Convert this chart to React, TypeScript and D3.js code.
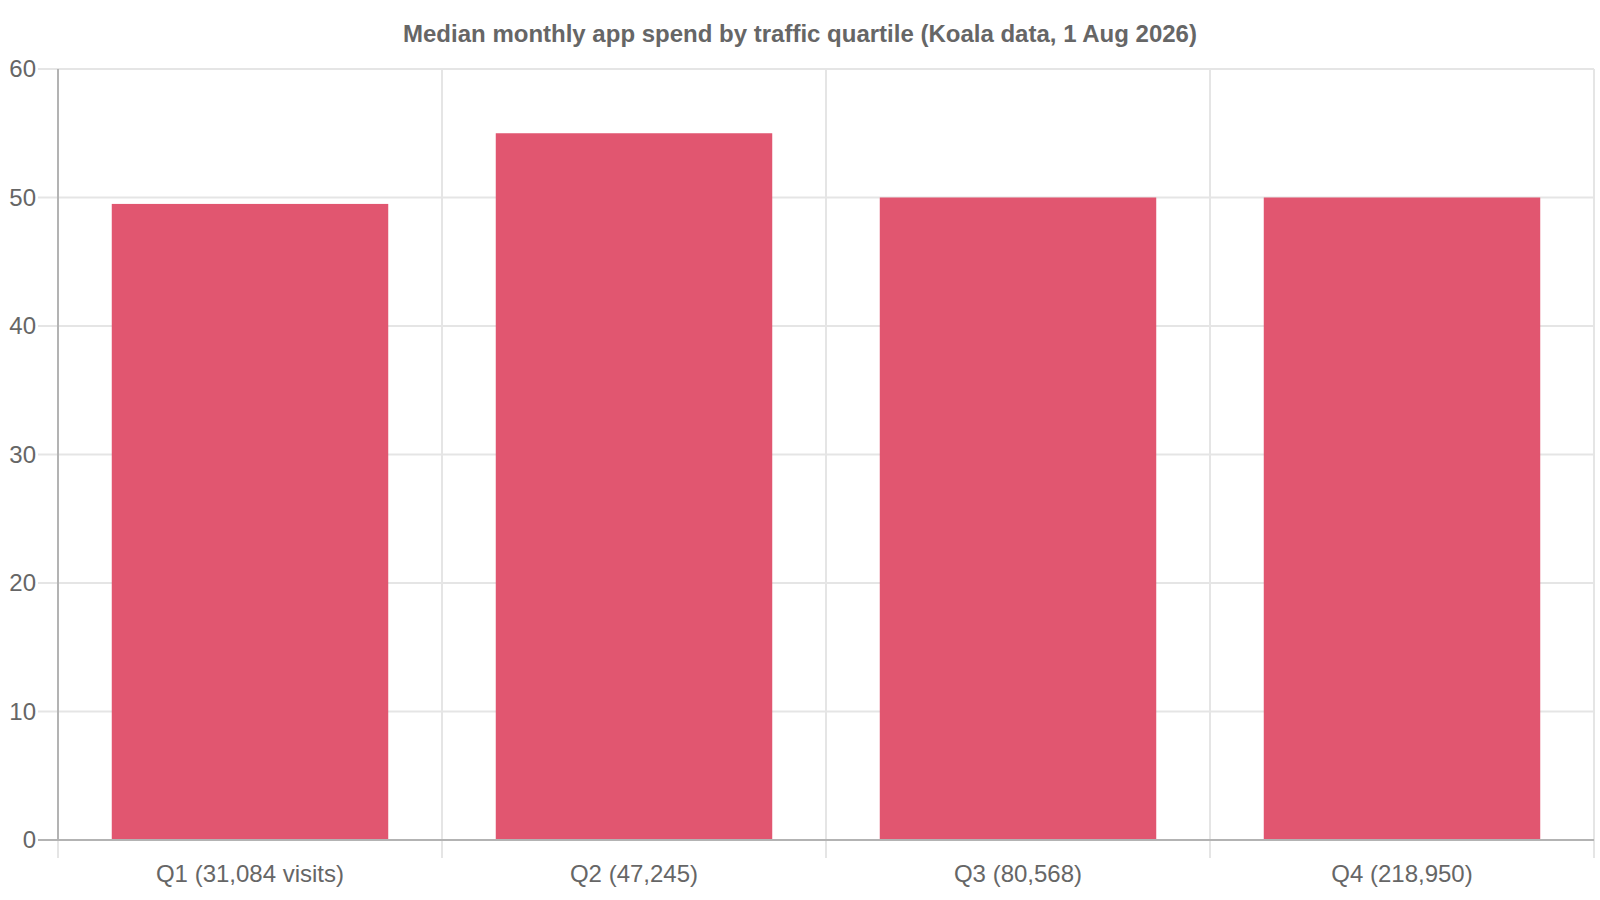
import { useEffect, useRef } from 'react'
import * as d3 from 'd3'

const title = 'Median monthly app spend by traffic quartile (Koala data, 1 Aug 2026)'
const categories = ['Q1 (31,084 visits)', 'Q2 (47,245)', 'Q3 (80,568)', 'Q4 (218,950)']
const medianSpend = [49.5, 55, 50, 50]
const yTicks = [0, 10, 20, 30, 40, 50, 60]

export default function App() {
  const svgRef = useRef<SVGSVGElement>(null)

  useEffect(() => {
    if (!svgRef.current) return
    const svg = d3.select(svgRef.current)
    svg.selectAll('*').remove()

    const width = 1600
    const height = 900
    const left = 58
    const right = 1594
    const top = 69
    const bottom = 840
    const font = 'Liberation Sans, Arial, sans-serif'

    const x = d3.scaleBand<string>()
      .domain(categories)
      .range([left, right])
      .paddingInner(0.28)
      .paddingOuter(0.14)

    const y = d3.scaleLinear().domain([0, 60]).range([bottom, top])
    const step = x.step()

    svg.attr('width', width).attr('height', height)

    // Title
    svg.append('text')
      .attr('x', width / 2)
      .attr('y', 42)
      .attr('text-anchor', 'middle')
      .style('font-family', font)
      .style('font-size', '24px')
      .style('font-weight', 'bold')
      .style('fill', '#666')
      .text(title)

    // Horizontal grid + ticks
    svg.append('g')
      .selectAll('line')
      .data(yTicks.filter(d => d !== 0))
      .enter().append('line')
      .attr('x1', left - 20)
      .attr('x2', right)
      .attr('y1', d => y(d))
      .attr('y2', d => y(d))
      .attr('stroke', '#e5e5e5')
      .attr('stroke-width', 2)

    // Vertical grid lines at category boundaries
    const bounds = d3.range(categories.length + 1).map(i => left + i * step)
    svg.append('g')
      .selectAll('line')
      .data(bounds)
      .enter().append('line')
      .attr('x1', d => d)
      .attr('x2', d => d)
      .attr('y1', top)
      .attr('y2', bottom + 18)
      .attr('stroke', '#e5e5e5')
      .attr('stroke-width', 2)

    // Bars
    svg.append('g')
      .selectAll('rect')
      .data(categories)
      .enter().append('rect')
      .attr('x', d => x(d)!)
      .attr('width', x.bandwidth())
      .attr('y', (d, i) => y(medianSpend[i]))
      .attr('height', (d, i) => bottom - y(medianSpend[i]))
      .attr('fill', '#e15670')

    // Axis lines
    svg.append('line')
      .attr('x1', left).attr('x2', left)
      .attr('y1', top).attr('y2', bottom)
      .attr('stroke', '#b3b3b3').attr('stroke-width', 2)
    svg.append('line')
      .attr('x1', left - 20).attr('x2', right)
      .attr('y1', bottom).attr('y2', bottom)
      .attr('stroke', '#b3b3b3').attr('stroke-width', 2)

    // Y tick labels
    svg.append('g')
      .selectAll('text')
      .data(yTicks)
      .enter().append('text')
      .attr('x', 36)
      .attr('y', d => y(d))
      .attr('dy', '0.35em')
      .attr('text-anchor', 'end')
      .style('font-family', font)
      .style('font-size', '24px')
      .style('fill', '#666')
      .text(d => d)

    // X tick labels
    svg.append('g')
      .selectAll('text')
      .data(categories)
      .enter().append('text')
      .attr('x', d => x(d)! + x.bandwidth() / 2)
      .attr('y', 882)
      .attr('text-anchor', 'middle')
      .style('font-family', font)
      .style('font-size', '24px')
      .style('fill', '#666')
      .text(d => d)
  }, [])

  return (
    <div style={{ position: 'fixed', left: 0, top: 0, width: 1600, height: 900, background: '#fff' }}>
      <svg ref={svgRef}></svg>
    </div>
  )
}
